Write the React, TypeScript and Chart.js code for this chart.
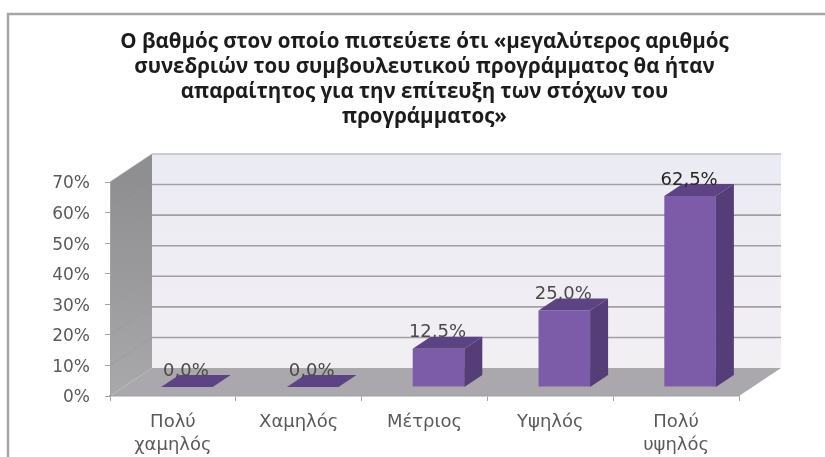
import React, { useEffect, useRef } from "react";
import { Chart, registerables } from "chart.js";

Chart.register(...registerables);

const titleLines = [
  "Ο βαθμός στον οποίο πιστεύετε ότι «μεγαλύτερος αριθμός",
  "συνεδριών του συμβουλευτικού προγράμματος θα ήταν",
  "απαραίτητος για την επίτευξη των στόχων του",
  "προγράμματος»",
];
const categories = [["Πολύ", "χαμηλός"], ["Χαμηλός"], ["Μέτριος"], ["Υψηλός"], ["Πολύ", "υψηλός"]];
const percentages = [0, 0, 12.5, 25, 62.5];

const WALL_DX = 42;
const WALL_DY = -28;
const BAR_SHIFT_X = 14;
const BAR_SHIFT_Y = -9;
const DEPTH_X = 18;
const DEPTH_Y = -12;

function poly(ctx: CanvasRenderingContext2D, pts: number[][], fill: string | CanvasGradient) {
  ctx.beginPath();
  pts.forEach((p, i) => (i ? ctx.lineTo(p[0], p[1]) : ctx.moveTo(p[0], p[1])));
  ctx.closePath();
  ctx.fillStyle = fill;
  ctx.fill();
}

const frame3d = {
  id: "frame3d",
  beforeDraw(chart: any) {
    const ctx: CanvasRenderingContext2D = chart.ctx;
    ctx.save();
    ctx.fillStyle = "#ffffff";
    ctx.fillRect(0, 0, chart.width, chart.height);
    ctx.strokeStyle = "#a6a6a6";
    ctx.lineWidth = 2.5;
    ctx.beginPath();
    ctx.moveTo(8, chart.height);
    ctx.lineTo(8, 14);
    ctx.lineTo(chart.width, 14);
    ctx.stroke();

    const { left, right, top, bottom } = chart.chartArea;
    const y = chart.scales.y;
    const backL = left + WALL_DX;
    const backR = right + WALL_DX;
    const backT = top + WALL_DY;
    const backB = bottom + WALL_DY;

    const backGrad = ctx.createLinearGradient(0, backT, 0, backB);
    backGrad.addColorStop(0, "#ebebf4");
    backGrad.addColorStop(1, "#f2eff3");
    poly(ctx, [[backL, backT], [backR, backT], [backR, backB], [backL, backB]], backGrad);

    const sideGrad = ctx.createLinearGradient(0, top, 0, bottom);
    sideGrad.addColorStop(0, "#8f8e91");
    sideGrad.addColorStop(1, "#a9a8ab");
    poly(ctx, [[left, top], [backL, backT], [backL, backB], [left, bottom]], sideGrad);
    poly(ctx, [[left, bottom], [backL, backB], [backR, backB], [right, bottom]], "#aaa8ac");

    y.ticks.forEach((t: any) => {
      const py = y.getPixelForValue(t.value);
      if (t.value > 0) {
        ctx.lineWidth = 1.6;
        ctx.strokeStyle = t.value === 70 ? "#bdbcc0" : "#a39fa4";
        ctx.beginPath();
        ctx.moveTo(backL, py + WALL_DY);
        ctx.lineTo(backR, py + WALL_DY);
        ctx.stroke();
        ctx.strokeStyle = "#98979b";
        ctx.lineWidth = 0.6;
        ctx.beginPath();
        ctx.moveTo(left, py);
        ctx.lineTo(backL, py + WALL_DY);
        ctx.stroke();
      }
    });
    ctx.restore();
  },
  beforeDatasetsDraw(chart: any) {
    chart.ctx.save();
    chart.ctx.translate(BAR_SHIFT_X, BAR_SHIFT_Y);
  },
  afterDatasetsDraw(chart: any) {
    const ctx: CanvasRenderingContext2D = chart.ctx;
    const bars = chart.getDatasetMeta(0).data;
    const base = chart.scales.y.getPixelForValue(0);
    bars.forEach((bar: any, i: number) => {
      const x0 = bar.x - bar.width / 2;
      const x1 = bar.x + bar.width / 2;
      const yTop = bar.y;
      if (yTop < base) {
        poly(ctx, [[x1, yTop], [x1 + DEPTH_X, yTop + DEPTH_Y], [x1 + DEPTH_X, base + DEPTH_Y], [x1, base]], "#553e78");
      }
      poly(ctx, [[x0, yTop], [x1, yTop], [x1 + DEPTH_X, yTop + DEPTH_Y], [x0 + DEPTH_X, yTop + DEPTH_Y]], "#5c4384");
      ctx.font = "18px 'DejaVu Sans'";
      ctx.fillStyle = percentages[i] > 50 ? "#262626" : "#4a4a4a";
      ctx.textAlign = "center";
      ctx.textBaseline = "middle";
      ctx.fillText(percentages[i].toFixed(1).replace(".", ",") + "%", bar.x - 1, yTop - 16);
    });
    ctx.restore();
  },
};

export default function App() {
  const ref = useRef<HTMLCanvasElement>(null);
  useEffect(() => {
    document.body.style.margin = "0";
    const chart = new Chart(ref.current!, {
      type: "bar",
      data: {
        labels: categories,
        datasets: [
          {
            data: percentages,
            backgroundColor: "#7c5ca8",
            categoryPercentage: 1,
            barPercentage: 0.41,
            clip: false,
          } as any,
        ],
      },
      options: {
        responsive: false,
        animation: false,
        layout: { padding: { top: 30, right: 86, left: 0, bottom: 0 } },
        plugins: {
          legend: { display: false },
          tooltip: { enabled: false },
          title: {
            display: true,
            text: titleLines,
            fullSize: false,
            color: "#1c1c1c",
            font: { family: "'Open Sans'", size: 20.5, weight: "bold", lineHeight: 25 / 20.5 },
            padding: { top: 0, bottom: 52 },
          },
        },
        scales: {
          x: {
            afterFit: (s: any) => {
              s.height = 61;
            },
            border: { color: "#a3a3a3", width: 1.5 },
            grid: { drawOnChartArea: false, color: "#a3a3a3", tickLength: 5 },
            ticks: {
              color: "#5a5a5a",
              padding: 10,
              maxRotation: 0,
              autoSkip: false,
              font: { family: "'DejaVu Sans'", size: 18, lineHeight: 23 / 18 },
            },
          },
          y: {
            min: 0,
            max: 70,
            afterFit: (s: any) => {
              s.width = 110;
            },
            border: { color: "#a3a3a3", width: 1 },
            grid: { drawOnChartArea: false, color: "#a3a3a3", tickLength: 5 },
            ticks: {
              stepSize: 10,
              color: "#5a5a5a",
              padding: 15,
              labelOffset: 2,
              callback: (v: any) => v + "%",
              font: { family: "'DejaVu Sans'", size: 17 },
            },
          },
        },
      },
      plugins: [frame3d],
    } as any);
    return () => chart.destroy();
  }, []);
  return (
    <div style={{ position: "absolute", left: 0, top: 0, width: 825, height: 457 }}>
      <canvas ref={ref} width={825} height={457} style={{ display: "block", filter: "blur(0.6px)" }} />
    </div>
  );
}
